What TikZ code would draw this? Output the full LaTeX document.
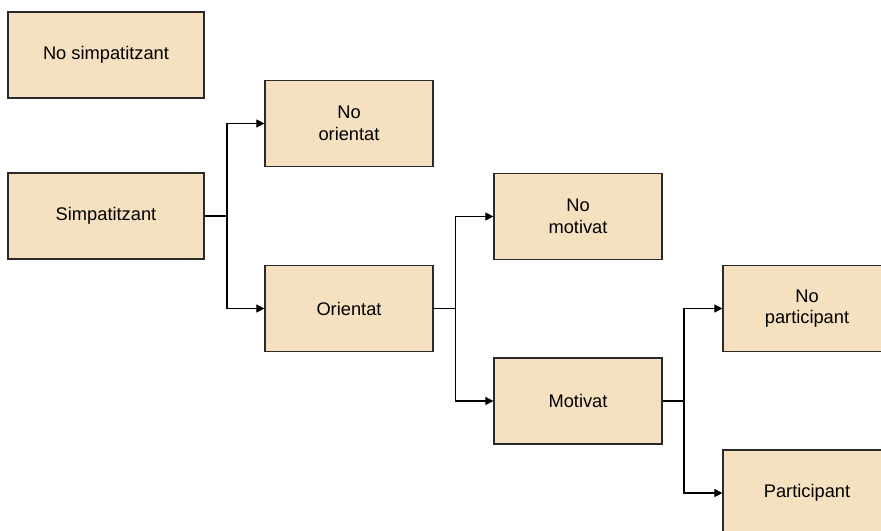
\documentclass[tikz,border=0pt]{standalone}
\usepackage{fontspec}
\setmainfont{Liberation Sans}
\usetikzlibrary{arrows.meta}
\definecolor{boxfill}{HTML}{F5E0C0}
\definecolor{boxline}{HTML}{2A2A2A}
\begin{document}
\begin{tikzpicture}[x=0.75pt,y=-0.75pt,
  box/.style={draw=boxline,line width=0.9pt,fill=boxfill,minimum width=126pt,minimum height=64.5pt,inner sep=0pt,align=center,font=\fontsize{13.7pt}{16.3pt}\selectfont},
  wide/.style={minimum width=147pt},
  conn/.style={line width=0.8pt,-{Triangle[length=6pt,width=6pt]}}]
\useasboundingbox (0,0) rectangle (881,531);
\clip (0,0) rectangle (881,531);
\node[box,wide] (ns) at (106,55) {No simpatitzant};
\node[box,wide] (s) at (106,216) {Simpatitzant};
\node[box] (no) at (349,123.5) {No\\orientat};
\node[box] (o) at (349,308.5) {Orientat};
\node[box] (nm) at (578,216.5) {No\\motivat};
\node[box] (m) at (578,401) {Motivat};
\node[box] (np) at (807,308.5) {No\\participant};
\node[box] (p) at (807,493) {Participant};
\coordinate (j1) at (227,216);
\coordinate (j2) at (455.5,308.5);
\coordinate (j3) at (684,401);
\draw[line width=0.8pt] (s.east) -- (j1);
\draw[conn] (j1) |- (no.west);
\draw[conn] (j1) |- (o.west);
\draw[line width=0.8pt] (o.east) -- (j2);
\draw[conn] (j2) |- (nm.west);
\draw[conn] (j2) |- (m.west);
\draw[line width=0.8pt] (m.east) -- (j3);
\draw[conn] (j3) |- (np.west);
\draw[conn] (j3) |- (p.west);
\end{tikzpicture}
\end{document}
